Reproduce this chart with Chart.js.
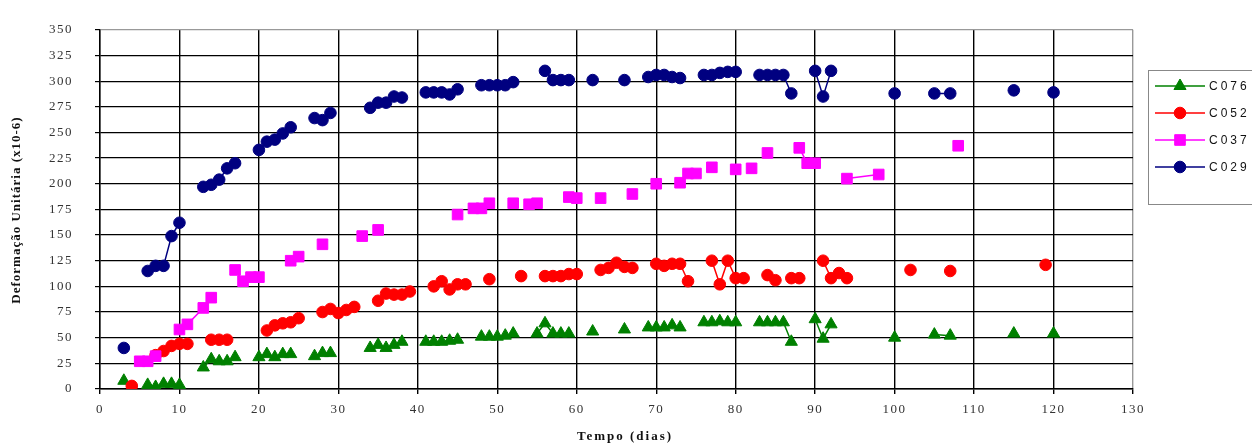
<!DOCTYPE html>
<html>
<head>
<meta charset="utf-8">
<script src="https://cdn.jsdelivr.net/npm/chart.js@4.4.1/dist/chart.umd.min.js"></script>
<style>
  html, body { margin: 0; padding: 0; background: #fff; }
  #chart { display: block; }
</style>
</head>
<body>
<canvas id="chart" width="1252" height="447"></canvas>
<script>
// leituras [dia, deformação] de cada extensômetro
const c076 = [
  [3, 8], [6, 4], [7, 2], [8, 5], [9, 5], [10, 4],
  [13, 21], [14, 29], [15, 27], [16, 27], [17, 31],
  [20, 31], [21, 34], [22, 31], [23, 34], [24, 34],
  [27, 32], [28, 35], [29, 35],
  [34, 40], [35, 43], [36, 40], [37, 43], [38, 46],
  [41, 46], [42, 46], [43, 46], [44, 47], [45, 48],
  [48, 51], [49, 51], [50, 51], [51, 52], [52, 54],
  [55, 54], [56, 64], [57, 54], [58, 54], [59, 54],
  [62, 56], [66, 58],
  [69, 60], [70, 60], [71, 60], [72, 62], [73, 60],
  [76, 65], [77, 65], [78, 66], [79, 65], [80, 65],
  [83, 65], [84, 65], [85, 65], [86, 65], [87, 46],
  [90, 68], [91, 49], [92, 63],
  [100, 50], [105, 53], [107, 52], [115, 54], [120, 54]
];
const c052 = [
  [4, 3], [7, 33], [8, 37], [9, 42], [10, 44], [11, 44],
  [14, 48], [15, 48], [16, 48],
  [21, 57], [22, 62], [23, 64], [24, 65], [25, 69],
  [28, 75], [29, 78], [30, 74], [31, 77], [32, 80],
  [35, 86], [36, 93], [37, 92], [38, 92], [39, 95],
  [42, 100], [43, 105], [44, 97], [45, 102], [46, 102],
  [49, 107], [53, 110],
  [56, 110], [57, 110], [58, 110], [59, 112], [60, 112],
  [63, 116], [64, 118], [65, 123], [66, 119], [67, 118],
  [70, 122], [71, 120], [72, 122], [73, 122], [74, 105],
  [77, 125], [78, 102], [79, 125], [80, 108], [81, 108],
  [84, 111], [85, 106], [87, 108], [88, 108],
  [91, 125], [92, 108], [93, 113], [94, 108],
  [102, 116], [107, 115], [119, 121]
];
const c037 = [
  [5, 27], [6, 27], [7, 32], [10, 58], [11, 63], [13, 79], [14, 89],
  [17, 116], [18, 105], [19, 109], [20, 109],
  [24, 125], [25, 129], [28, 141], [33, 149], [35, 155],
  [45, 170], [47, 176], [48, 176], [49, 181], [52, 181], [54, 180], [55, 181],
  [59, 187], [60, 186], [63, 186], [67, 190], [70, 200], [73, 201], [74, 210], [75, 210],
  [77, 216], [80, 214], [82, 215], [84, 230], [88, 235], [89, 220], [90, 220],
  [94, 205], [98, 209], [108, 237]
];
const c029 = [
  [3, 40], [6, 115], [7, 120], [8, 120], [9, 149], [10, 162],
  [13, 197], [14, 199], [15, 204], [16, 215], [17, 220],
  [20, 233], [21, 241], [22, 243], [23, 249], [24, 255],
  [27, 264], [28, 262], [29, 269],
  [34, 274], [35, 279], [36, 279], [37, 285], [38, 284],
  [41, 289], [42, 289], [43, 289], [44, 287], [45, 292],
  [48, 296], [49, 296], [50, 296], [51, 296], [52, 299],
  [56, 310], [57, 301], [58, 301], [59, 301],
  [62, 301], [66, 301],
  [69, 304], [70, 306], [71, 306], [72, 304], [73, 303],
  [76, 306], [77, 306], [78, 308], [79, 309], [80, 309],
  [83, 306], [84, 306], [85, 306], [86, 306], [87, 288],
  [90, 310], [91, 285], [92, 310],
  [100, 288], [105, 288], [107, 288], [115, 291], [120, 289]
];

const names = ["C076", "C052", "C037", "C029"];
const yTicks = [0, 350, 25];
const xTicks = [0, 130, 10];

// linhas da planilha: todos os dias com alguma leitura (célula vazia = linha interrompida)
const days = [...new Set([...c076, ...c052, ...c037, ...c029].map((p) => p[0]))].sort((a, b) => a - b);

function toRows(pairs) {
  const m = new Map(pairs);
  return days.map((d) => ({ x: d, y: m.has(d) ? m.get(d) : null }));
}

function serie(label, pairs, color, style, radius) {
  return {
    label: label,
    data: toRows(pairs),
    borderColor: color,
    backgroundColor: color,
    borderWidth: 1.5,
    pointStyle: style,
    pointRadius: radius,
    pointBorderWidth: 1,
    pointBackgroundColor: color,
    pointBorderColor: color,
    spanGaps: false,
    tension: 0,
  };
}

// ordem invertida: C029 fica por cima, como no Excel
const datasets = [
  serie(names[3], c029, "#000080", "circle", 5.8),
  serie(names[2], c037, "#FF00FF", "rect", 7.5),
  serie(names[1], c052, "#FF0000", "circle", 5.8),
  serie(names[0], c076, "#008000", "triangle", 7),
];

const spacing = {
  id: "spacing",
  beforeDraw(chart) {
    chart.ctx.letterSpacing = "1.5px";
  },
};

const extras = {
  id: "extras",
  afterDraw(chart) {
    const ctx = chart.ctx;
    ctx.save();
    ctx.fillStyle = "#111";
    ctx.textAlign = "center";
    ctx.textBaseline = "middle";

    // título do eixo y
    ctx.save();
    ctx.translate(17, 210);
    ctx.rotate(-Math.PI / 2);
    ctx.font = 'bold 13px "Liberation Serif"';
    ctx.letterSpacing = "1px";
    ctx.fillText("Deformação Unitária (x10-6)", 0, 0);
    ctx.restore();

    // título do eixo x
    ctx.font = 'bold 13px "Liberation Serif"';
    ctx.letterSpacing = "2px";
    ctx.fillText("Tempo (dias)", 625, 437);

    // legenda
    ctx.strokeStyle = "#888";
    ctx.lineWidth = 1;
    ctx.strokeRect(1148.5, 70.5, 120, 134);
    ctx.font = '12px "Liberation Sans"';
    ctx.letterSpacing = "3px";
    ctx.textAlign = "left";
    names.forEach((name, i) => {
      const ds = chart.data.datasets.find((d) => d.label === name);
      const y = 86 + i * 27;
      ctx.strokeStyle = ds.borderColor;
      ctx.lineWidth = 1.5;
      ctx.beginPath();
      ctx.moveTo(1155, y);
      ctx.lineTo(1205, y);
      ctx.stroke();
      ctx.fillStyle = ds.pointBackgroundColor;
      ctx.strokeStyle = ds.pointBorderColor;
      ctx.lineWidth = 1;
      Chart.helpers.drawPoint(ctx, { pointStyle: ds.pointStyle, radius: ds.pointRadius, rotation: 0, borderWidth: 1 }, 1180, y);
      ctx.fillStyle = "#111";
      ctx.fillText(name, 1209, y + 1);
    });
    ctx.restore();
  },
};

const tickFont = { family: "Liberation Serif", size: 13 };

new Chart(document.getElementById("chart"), {
  type: "line",
  data: { datasets: datasets },
  plugins: [spacing, extras],
  options: {
    responsive: false,
    devicePixelRatio: 1,
    animation: false,
    layout: { padding: { top: 20, right: 119, left: 0, bottom: 0 } },
    plugins: { legend: { display: false }, tooltip: { enabled: false } },
    scales: {
      x: {
        type: "linear",
        min: xTicks[0],
        max: xTicks[1],
        ticks: { stepSize: xTicks[2], font: tickFont, color: "#333", padding: 8, maxRotation: 0 },
        grid: {
          color: (c) => (c.tick && c.tick.value === xTicks[1] ? "#999" : "#000"),
          tickColor: "#000",
          tickLength: 5,
          lineWidth: 1.4,
        },
        border: { color: "#000", width: 1.4 },
        afterFit: (s) => { s.height = 58; },
      },
      y: {
        min: yTicks[0],
        max: yTicks[1],
        ticks: { stepSize: yTicks[2], font: tickFont, color: "#333", padding: 22 },
        grid: {
          color: (c) => (c.tick && c.tick.value === yTicks[1] ? "#999" : "#000"),
          tickColor: "#000",
          tickLength: 5,
          lineWidth: 1.2,
        },
        border: { color: "#000", width: 1.4 },
        afterFit: (s) => { s.width = 100; },
      },
    },
  },
});
</script>
</body>
</html>
